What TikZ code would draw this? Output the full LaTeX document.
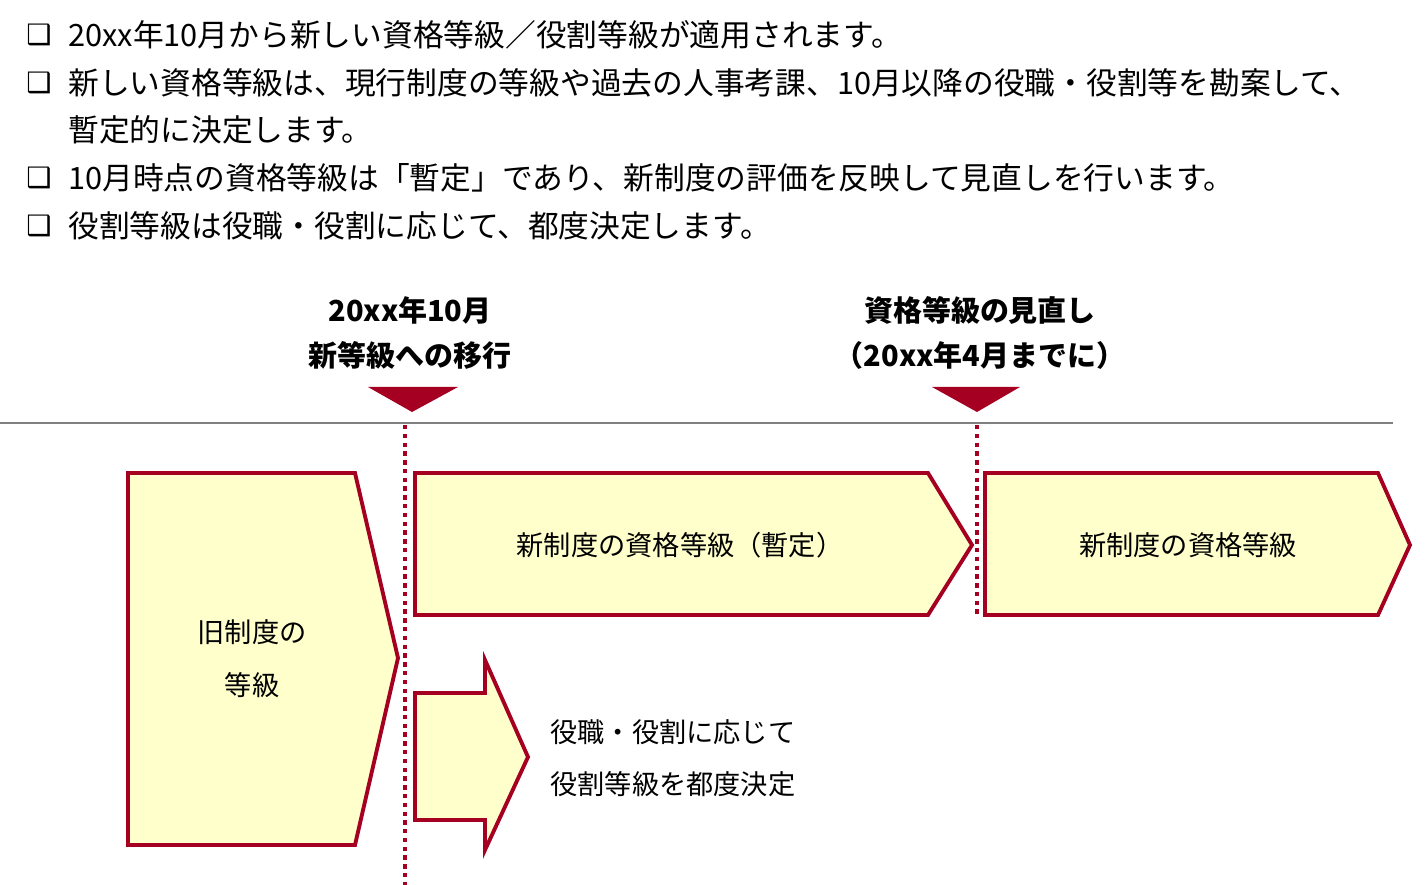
\documentclass[tikz,border=0pt]{standalone}
\usepackage{fontspec}
\setmainfont{Liberation Sans}
\newfontfamily\jp{Noto Sans CJK JP}
\newfontfamily\sym{DejaVu Sans}
\usetikzlibrary{positioning}
\definecolor{darkred}{HTML}{A50021}
\definecolor{paleyellow}{HTML}{FFFFCC}

\begin{document}
\begin{tikzpicture}[x=0.02cm,y=-0.02cm,
                    font=\jp\fontsize{15.5}{17}\selectfont]
  \tikzstyle{bullet}=[anchor=west,inner sep=0pt,font=\sym\fontsize{16}{17}\selectfont]
  \tikzstyle{line}=[anchor=west,inner sep=0pt,font=\jp\fontsize{17.5}{19}\selectfont]
  \tikzstyle{note}=[anchor=west,inner sep=0pt]
  \tikzstyle{head}=[inner sep=0pt,font=\jp\bfseries\fontsize{16.5}{18}\selectfont]
  \tikzstyle{box}=[draw=darkred,fill=paleyellow,line width=2.2pt,line join=miter]
  \tikzstyle{marker}=[fill=darkred]
  \tikzstyle{cut}=[draw=darkred,line width=2.5pt,dash pattern=on 2.5pt off 2.5pt]

  \useasboundingbox (0,0) rectangle (1428,885);

  % bullets
  \node[bullet] (b1) at (26,35)  {❑};
  \node[bullet] (b2) at (26,83)  {❑};
  \node[bullet] (b3) at (26,178) {❑};
  \node[bullet] (b4) at (26,226) {❑};
  \node[line] (t1) at (68,35)  {20xx年10月から新しい資格等級／役割等級が適用されます。};
  \node[line] (t2) at (68,83)  {新しい資格等級は、現行制度の等級や過去の人事考課、10月以降の役職・役割等を勘案して、};
  \node[line] (t2b) at (68,130) {暫定的に決定します。};
  \node[line] (t3) at (68,178) {10月時点の資格等級は「暫定」であり、新制度の評価を反映して見直しを行います。};
  \node[line] (t4) at (68,226) {役割等級は役職・役割に応じて、都度決定します。};

  % milestones
  \node[head] (m1a) at (410,310) {20xx年10月};
  \node[head] (m1b) at (410,355) {新等級への移行};
  \node[head] (m2a) at (980,310) {資格等級の見直し};
  \node[head] (m2b) at (980,355) {（20xx年4月までに）};
  \fill[marker] (368,387) -- (458,387) -- (412,412) -- cycle;
  \fill[marker] (932,387) -- (1020,387) -- (977,412) -- cycle;

  \draw[gray,line width=0.8pt] (0,423) -- (1393,423);
  \coordinate (c1a) at (405,425);
  \coordinate (c1b) at (405,885);
  \coordinate (c2a) at (977,425);
  \coordinate (c2b) at (977,615);

  % shapes
  \draw[box] (128,473) -- (355,473) -- (398,658) -- (355,845) -- (128,845) -- cycle;
  \draw[box] (415,473) -- (928,473) -- (972,545) -- (928,615) -- (415,615) -- cycle;
  \draw[box] (985,473) -- (1378,473) -- (1410,545) -- (1378,615) -- (985,615) -- cycle;
  \draw[box] (415,693) -- (485,693) -- (485,660) -- (528,757) -- (485,850)
             -- (485,820) -- (415,820) -- cycle;
  \draw[cut] (c1a) -- (c1b);
  \draw[cut] (c2a) -- (c2b);

  \node (old1) at (252,632) {旧制度の};
  \node (old2) at (252,685) {等級};
  \node (prov) at (680,545) {新制度の資格等級（暫定）};
  \node (new) at (1188,545) {新制度の資格等級};
  \node[note] (role1) at (550,732) {役職・役割に応じて};
  \node[note] (role2) at (550,784) {役割等級を都度決定};
\end{tikzpicture}
\end{document}
